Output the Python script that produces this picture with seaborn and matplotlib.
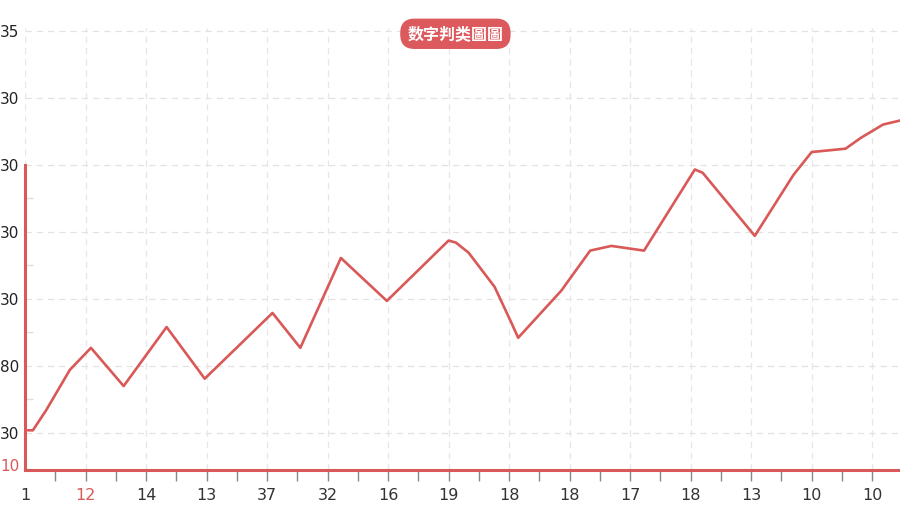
import pandas as pd
import matplotlib.pyplot as plt
import seaborn as sns

# values (x in tick-slot units, y in grid units)
x_pos = [0.05, 0.13, 0.35, 0.74, 1.09, 1.63, 2.34, 2.97, 4.09, 4.55, 5.22,
         5.98, 7.00, 7.12, 7.33, 7.76, 8.04, 8.15, 8.86, 9.34, 9.69, 10.23,
         11.07, 11.20, 12.06, 12.70, 13.00, 13.56, 13.81, 14.18, 14.46]
y_val = [0.04, 0.04, 0.34, 0.94, 1.27, 0.70, 1.58, 0.81, 1.79, 1.27, 2.61,
         1.97, 2.87, 2.84, 2.69, 2.18, 1.64, 1.42, 2.12, 2.72, 2.79, 2.72,
         3.93, 3.88, 2.94, 3.85, 4.19, 4.24, 4.40, 4.60, 4.66]

x_labels = ["1", "12", "14", "13", "37", "32", "16", "19", "18", "18",
            "17", "18", "13", "10", "10"]
y_labels = ["30", "80", "30", "30", "30", "30", "35"]
title = "数字判类圖圖"

red = "#d95858"
df = pd.DataFrame({"x": x_pos, "y": y_val})

sns.set_style("white")
plt.rcParams['font.family'] = ['DejaVu Sans']

fig = plt.figure(figsize=(9, 5.12), dpi=100)
ax = fig.add_axes([25 / 900, 42 / 512, 875 / 900, 442 / 512])

sns.lineplot(data=df, x="x", y="y", color=red, linewidth=1.9, ax=ax,
             sort=False, zorder=3)

ax.set_xlim(0, 14.46)
ax.set_ylim(-0.552, 6.04)

# x ticks: labels on integers, marks every half slot
ax.set_xticks(range(len(x_labels)))
ax.set_xticklabels(x_labels)
ax.set_xticks([i + 0.5 for i in range(14)], minor=True)
ax.tick_params(axis="x", which="both", bottom=True, direction="out",
               length=8, width=1, color="#888888", labelsize=11.5,
               labelcolor="#333333", pad=5)
ax.get_xticklabels()[1].set_color(red)
ax.xaxis.get_major_ticks()[0].tick1line.set_visible(False)

# y ticks
ax.set_yticks([-0.48] + list(range(len(y_labels))))
ax.set_yticklabels(["10"] + y_labels)
ax.set_yticks([i + 0.5 for i in range(4)], minor=True)
ax.tick_params(axis="y", which="major", left=True, length=0, labelsize=11,
               labelcolor="#222222", pad=4)
ax.tick_params(axis="y", which="minor", left=True, direction="in",
               length=6, width=1, color="#dddddd")
ax.get_yticklabels()[0].set_color(red)

# dashed grid
for v in range(len(y_labels)):
    ax.axhline(v, color="#e2e2e2", lw=0.9, ls=(0, (5, 4)), zorder=1)
for i in range(len(x_labels)):
    ax.axvline(i, color="#e6e6e6", lw=0.9, ls=(0, (5, 4)), zorder=1)

ax.set_xlabel("")
ax.set_ylabel("")

for s in ["top", "right"]:
    ax.spines[s].set_visible(False)
ax.spines["bottom"].set_color(red)
ax.spines["bottom"].set_linewidth(2.2)
ax.spines["left"].set_color(red)
ax.spines["left"].set_linewidth(2.2)
ax.spines["left"].set_bounds(-0.552, 4.0)

fig.text(0.506, 0.934, title, ha="center", va="center", color="white",
         fontsize=11.5, fontweight="bold",
         family=['Noto Sans CJK SC', 'DejaVu Sans'],
         bbox=dict(boxstyle="round,pad=0.45,rounding_size=0.9",
                   facecolor="#dc5a5e", edgecolor="none"))

plt.savefig("out.png", dpi=100)
